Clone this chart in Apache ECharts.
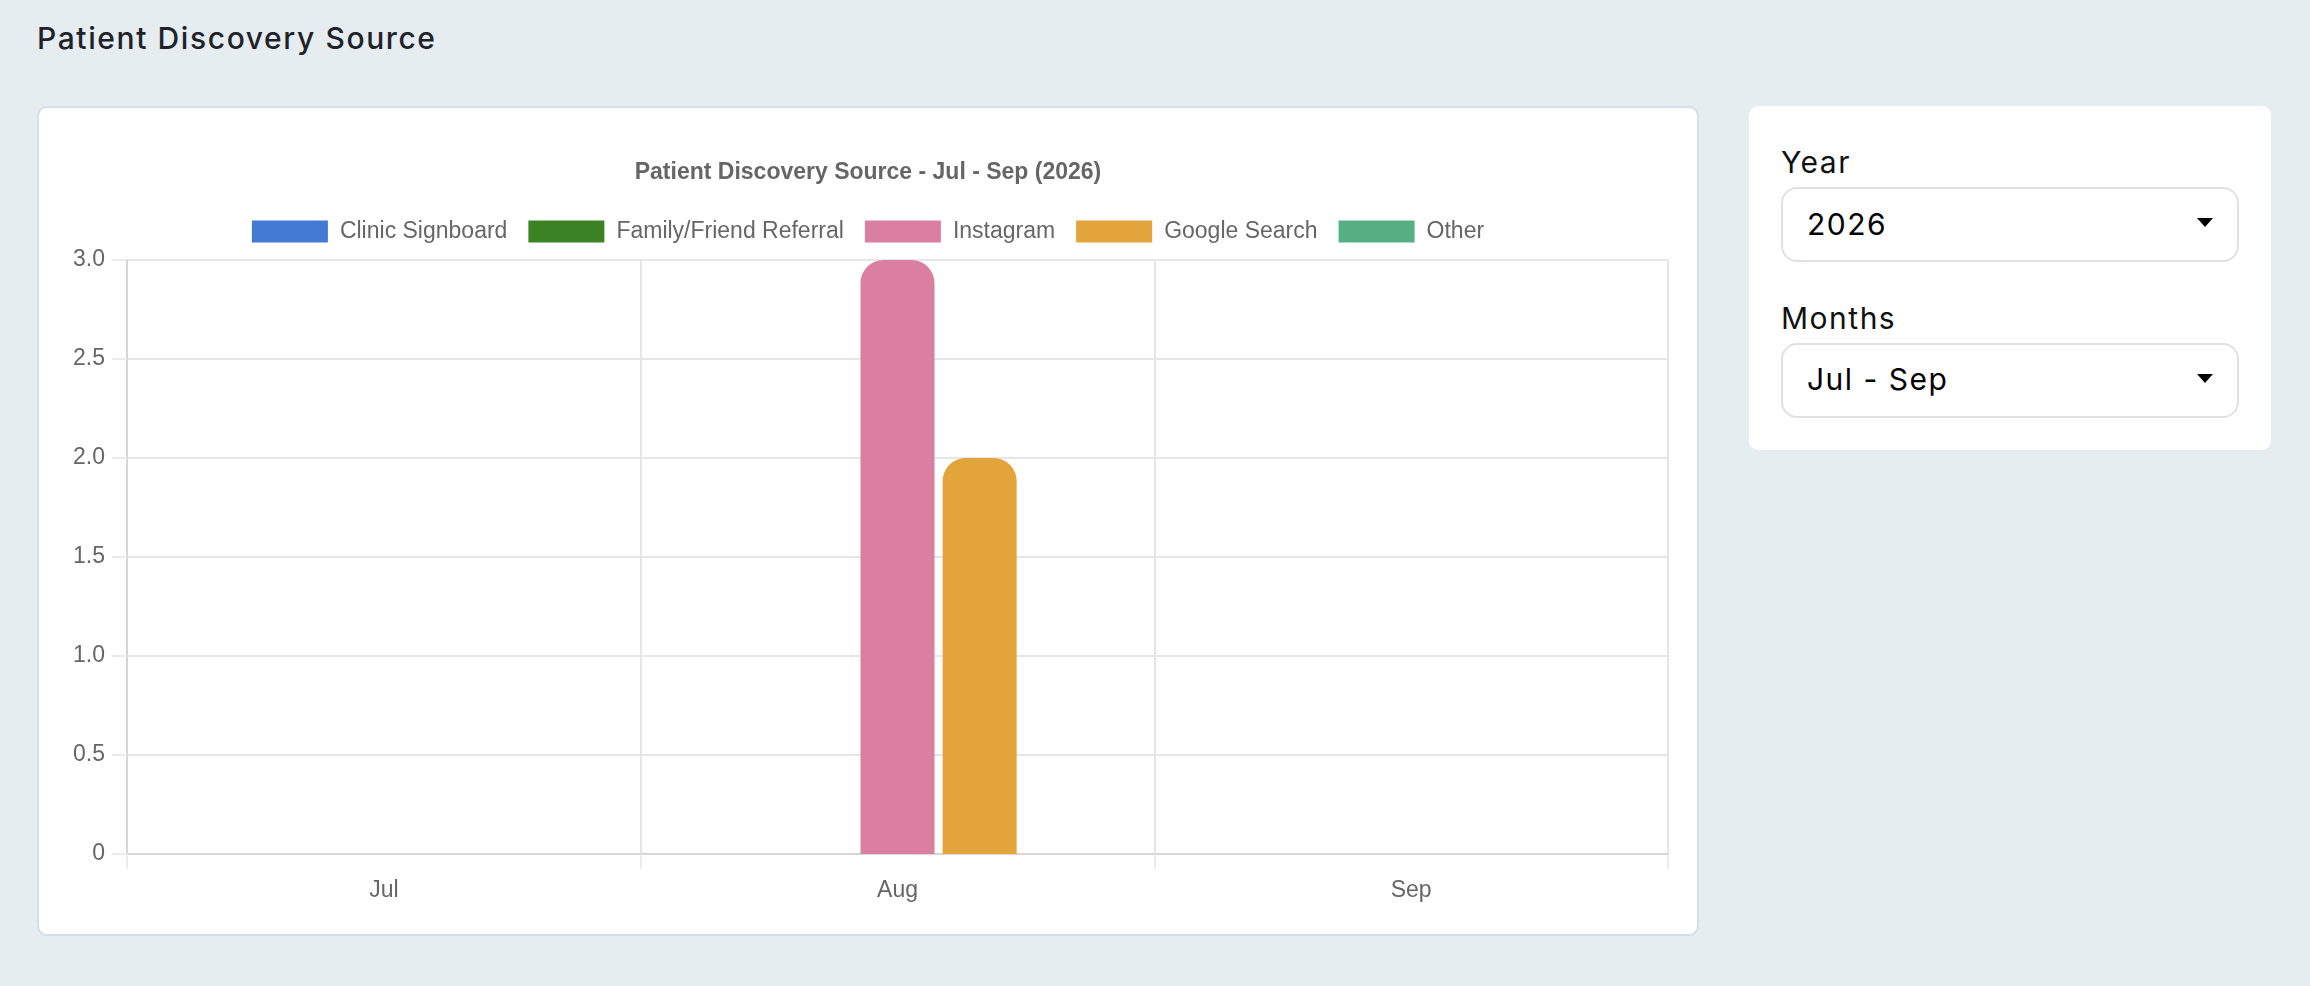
<!DOCTYPE html>
<html>
<head>
<meta charset="utf-8">
<script src="https://cdn.jsdelivr.net/npm/echarts@6/dist/echarts.min.js"></script>
<style>
  html, body { margin: 0; padding: 0; }
  body { width: 2310px; height: 986px; background: #e6edf1; position: relative; overflow: hidden; font-family: Inter, "Noto Sans", sans-serif; }
  .abs { position: absolute; white-space: nowrap; }
  .page-title { left: 37px; top: 23px; font-size: 30px; line-height: 30px; font-weight: 500; color: #1f2329; letter-spacing: 1.6px; }
  .card { left: 37px; top: 106px; width: 1662px; height: 830px; box-sizing: border-box; background: #fff; border: 2px solid #d3dfea; border-radius: 10px; }
  #chart { left: 37px; top: 106px; width: 1662px; height: 830px; }
  .side { left: 1749px; top: 106px; width: 522px; height: 344px; background: #fff; border-radius: 9px; }
  .lbl { font-size: 30px; line-height: 30px; color: #111; letter-spacing: 1.5px; }
  .sel { box-sizing: border-box; width: 458px; height: 75px; left: 1781px; border: 2px solid #dfe1e4; border-radius: 16px; background: #fff; }
  .val { font-size: 30px; line-height: 30px; color: #000; letter-spacing: 1.5px; }
  .arrow { width: 0; height: 0; border-left: 8px solid transparent; border-right: 8px solid transparent; border-top: 9px solid #000; }
</style>
</head>
<body>
<div class="abs page-title">Patient Discovery Source</div>
<div class="abs card"></div>
<div class="abs" id="chart"></div>

<div class="abs side"></div>
<div class="abs lbl" style="left:1781px; top:147px;">Year</div>
<div class="abs sel" style="top:187px;"></div>
<div class="abs val" style="left:1807px; top:209px;">2026</div>
<div class="abs arrow" style="left:2197px; top:218px;"></div>
<div class="abs lbl" style="left:1781px; top:303px;">Months</div>
<div class="abs sel" style="top:343px;"></div>
<div class="abs val" style="left:1807px; top:364px;">Jul - Sep</div>
<div class="abs arrow" style="left:2197px; top:374px;"></div>

<script>
// data
const months = ['Jul', 'Aug', 'Sep'];
const sources = ['Clinic Signboard', 'Family/Friend Referral', 'Instagram', 'Google Search', 'Other'];
const colors = ['#4479d4', '#3a8224', '#db7fa1', '#e3a53b', '#55af83'];
const clinicSignboard = [0, 0, 0];
const familyReferral = [0, 0, 0];
const instagram = [0, 3, 0];
const googleSearch = [0, 2, 0];
const other = [0, 0, 0];
const seriesValues = [clinicSignboard, familyReferral, instagram, googleSearch, other];
const yTicks = { min: 0, max: 3, step: 0.5 };

const chart = echarts.init(document.getElementById('chart'));
const txt = '#666';
const font = '"Liberation Sans", Arial, sans-serif';

const option = {
  animation: false,
  title: {
    text: 'Patient Discovery Source - Jul - Sep (2026)',
    left: 'center',
    top: 55,
    padding: 0,
    textStyle: { fontSize: 23, fontWeight: 'bold', color: txt, fontFamily: font }
  },
  legend: {
    data: sources,
    left: 'center',
    top: 114,
    padding: 0,
    itemWidth: 76,
    itemHeight: 22,
    itemGap: 21,
    icon: 'rect',
    textStyle: { fontSize: 23, color: txt, fontFamily: font, padding: [0, 0, 0, 7] }
  },
  grid: { left: 90, right: 31, top: 154, bottom: 82, containLabel: false },
  xAxis: {
    type: 'category',
    data: months,
    boundaryGap: true,
    axisLine: { show: true, lineStyle: { color: '#d6d6d6', width: 2 } },
    axisTick: { show: true, length: 15, interval: 0, lineStyle: { color: '#ebebeb', width: 2 } },
    splitLine: { show: true, interval: 0, lineStyle: { color: '#e6e6e6', width: 2 } },
    axisLabel: { margin: 25, fontSize: 23, color: txt, fontFamily: font }
  },
  yAxis: {
    type: 'value',
    min: yTicks.min,
    max: yTicks.max,
    interval: yTicks.step,
    axisLine: { show: true, lineStyle: { color: '#d6d6d6', width: 2 } },
    axisTick: { show: true, length: 15, lineStyle: { color: '#ebebeb', width: 2 } },
    splitLine: { show: true, lineStyle: { color: '#e6e6e6', width: 2 } },
    axisLabel: {
      margin: 22, fontSize: 23, color: txt, fontFamily: font,
      formatter: v => (v === 0 ? '0' : v.toFixed(1))
    }
  },
  series: sources.map((name, i) => ({
    name: name,
    type: 'bar',
    data: seriesValues[i],
    barWidth: 74,
    barGap: '11%',
    itemStyle: { color: colors[i], borderRadius: [23, 23, 0, 0] }
  }))
};

option && chart.setOption(option);
</script>
</body>
</html>
